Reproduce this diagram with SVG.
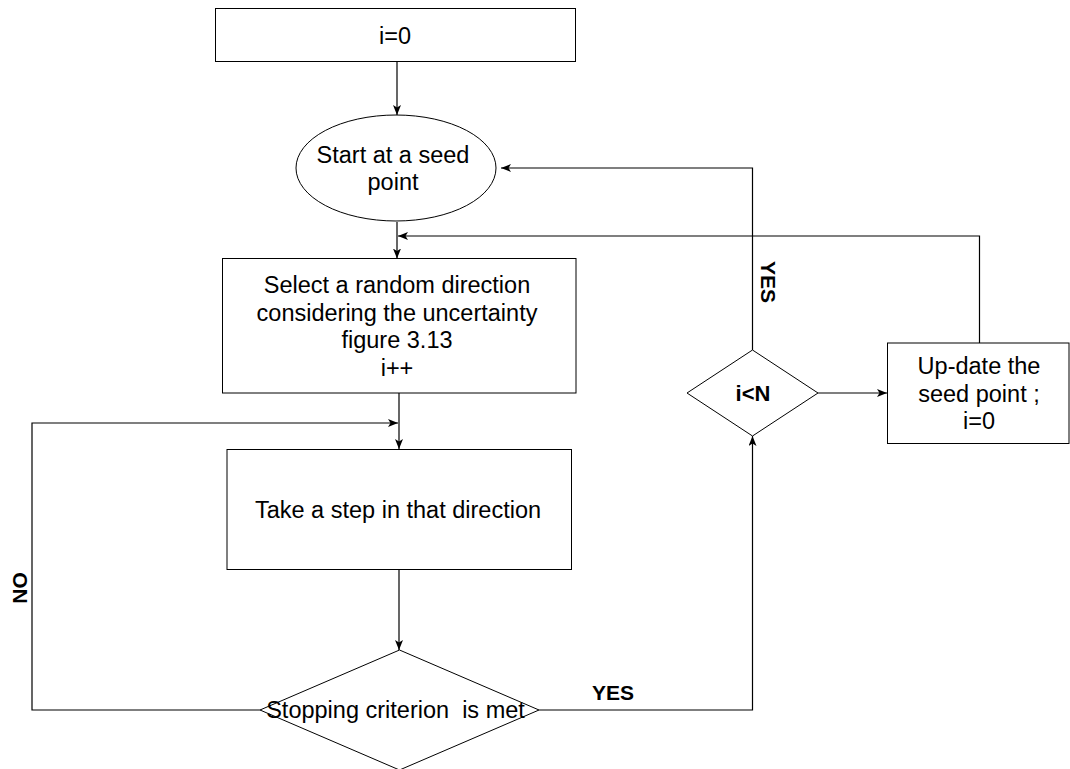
<svg xmlns="http://www.w3.org/2000/svg" width="1070" height="769" viewBox="0 0 1070 769">
<style>
.shape{fill:#fff;stroke:#000;stroke-width:1}
.conn{fill:none;stroke:#000;stroke-width:1.2}
.t{font-family:"Liberation Sans",Arial,sans-serif;font-size:23.5px;fill:#000;text-anchor:middle}
.b{font-family:"Liberation Sans",Arial,sans-serif;font-size:21px;font-weight:bold;fill:#000;text-anchor:middle}
</style>
<defs>
<marker id="arr" viewBox="0 0 10 8" refX="10" refY="4" markerWidth="10" markerHeight="8" orient="auto" markerUnits="userSpaceOnUse">
<path d="M0,0 L10,4 L0,8 L2.5,4 z" fill="#000"/>
</marker>
</defs>
<rect width="1070" height="769" fill="#fff"/>
<g id="connectors">
<path class="conn" d="M397 62 V115" marker-end="url(#arr)"/>
<path class="conn" d="M397 222 V258.5" marker-end="url(#arr)"/>
<path class="conn" d="M399 393 V449" marker-end="url(#arr)"/>
<path class="conn" d="M399 570 V650" marker-end="url(#arr)"/>
<path class="conn" d="M260 710 H32 V423 H398" marker-end="url(#arr)"/>
<path class="conn" d="M539 710 H752.5 V436" marker-end="url(#arr)"/>
<path class="conn" d="M752.5 350 V168 H501" marker-end="url(#arr)"/>
<path class="conn" d="M818 393 H887" marker-end="url(#arr)"/>
<path class="conn" d="M979.5 343 V236 H398" marker-end="url(#arr)"/>
</g>
<g id="labels">
<text class="b" transform="translate(27,588) rotate(-90)">NO</text>
<text class="b" transform="translate(761,282) rotate(90)">YES</text>
<text class="b" x="613" y="700">YES</text>
</g>
<g id="n-i0">
<rect class="shape" x="215.5" y="8.5" width="360" height="53"/>
<text class="t" x="395" y="44">i=0</text>
</g>
<g id="n-start">
<ellipse class="shape" cx="396" cy="168" rx="100" ry="53"/>
<text class="t" x="393" y="163">Start at a seed</text>
<text class="t" x="393" y="190">point</text>
</g>
<g id="n-select">
<rect class="shape" x="222.5" y="258.5" width="353.5" height="134.5"/>
<text class="t" x="397" y="293">Select a random direction</text>
<text class="t" x="397" y="320.5">considering the uncertainty</text>
<text class="t" x="397" y="348">figure 3.13</text>
<text class="t" x="397" y="375.5">i++</text>
</g>
<g id="n-step">
<rect class="shape" x="227" y="449.5" width="344.5" height="120"/>
<text class="t" x="398" y="517.5">Take a step in that direction</text>
</g>
<g id="n-stop">
<polygon class="shape" points="399.5,650 539,710 399.5,770 260,710"/>
<text class="t" x="395.5" y="718" xml:space="preserve">Stopping criterion  is met</text>
</g>
<g id="n-iltn">
<polygon class="shape" points="752.5,350 818,393 752.5,436 687,393"/>
<text class="b" x="753" y="401" style="font-size:22px">i&lt;N</text>
</g>
<g id="n-update">
<rect class="shape" x="887.5" y="343" width="181.5" height="100.5"/>
<text class="t" x="979" y="374">Up-date the</text>
<text class="t" x="979" y="401.5">seed point ;</text>
<text class="t" x="979" y="429">i=0</text>
</g>
</svg>
